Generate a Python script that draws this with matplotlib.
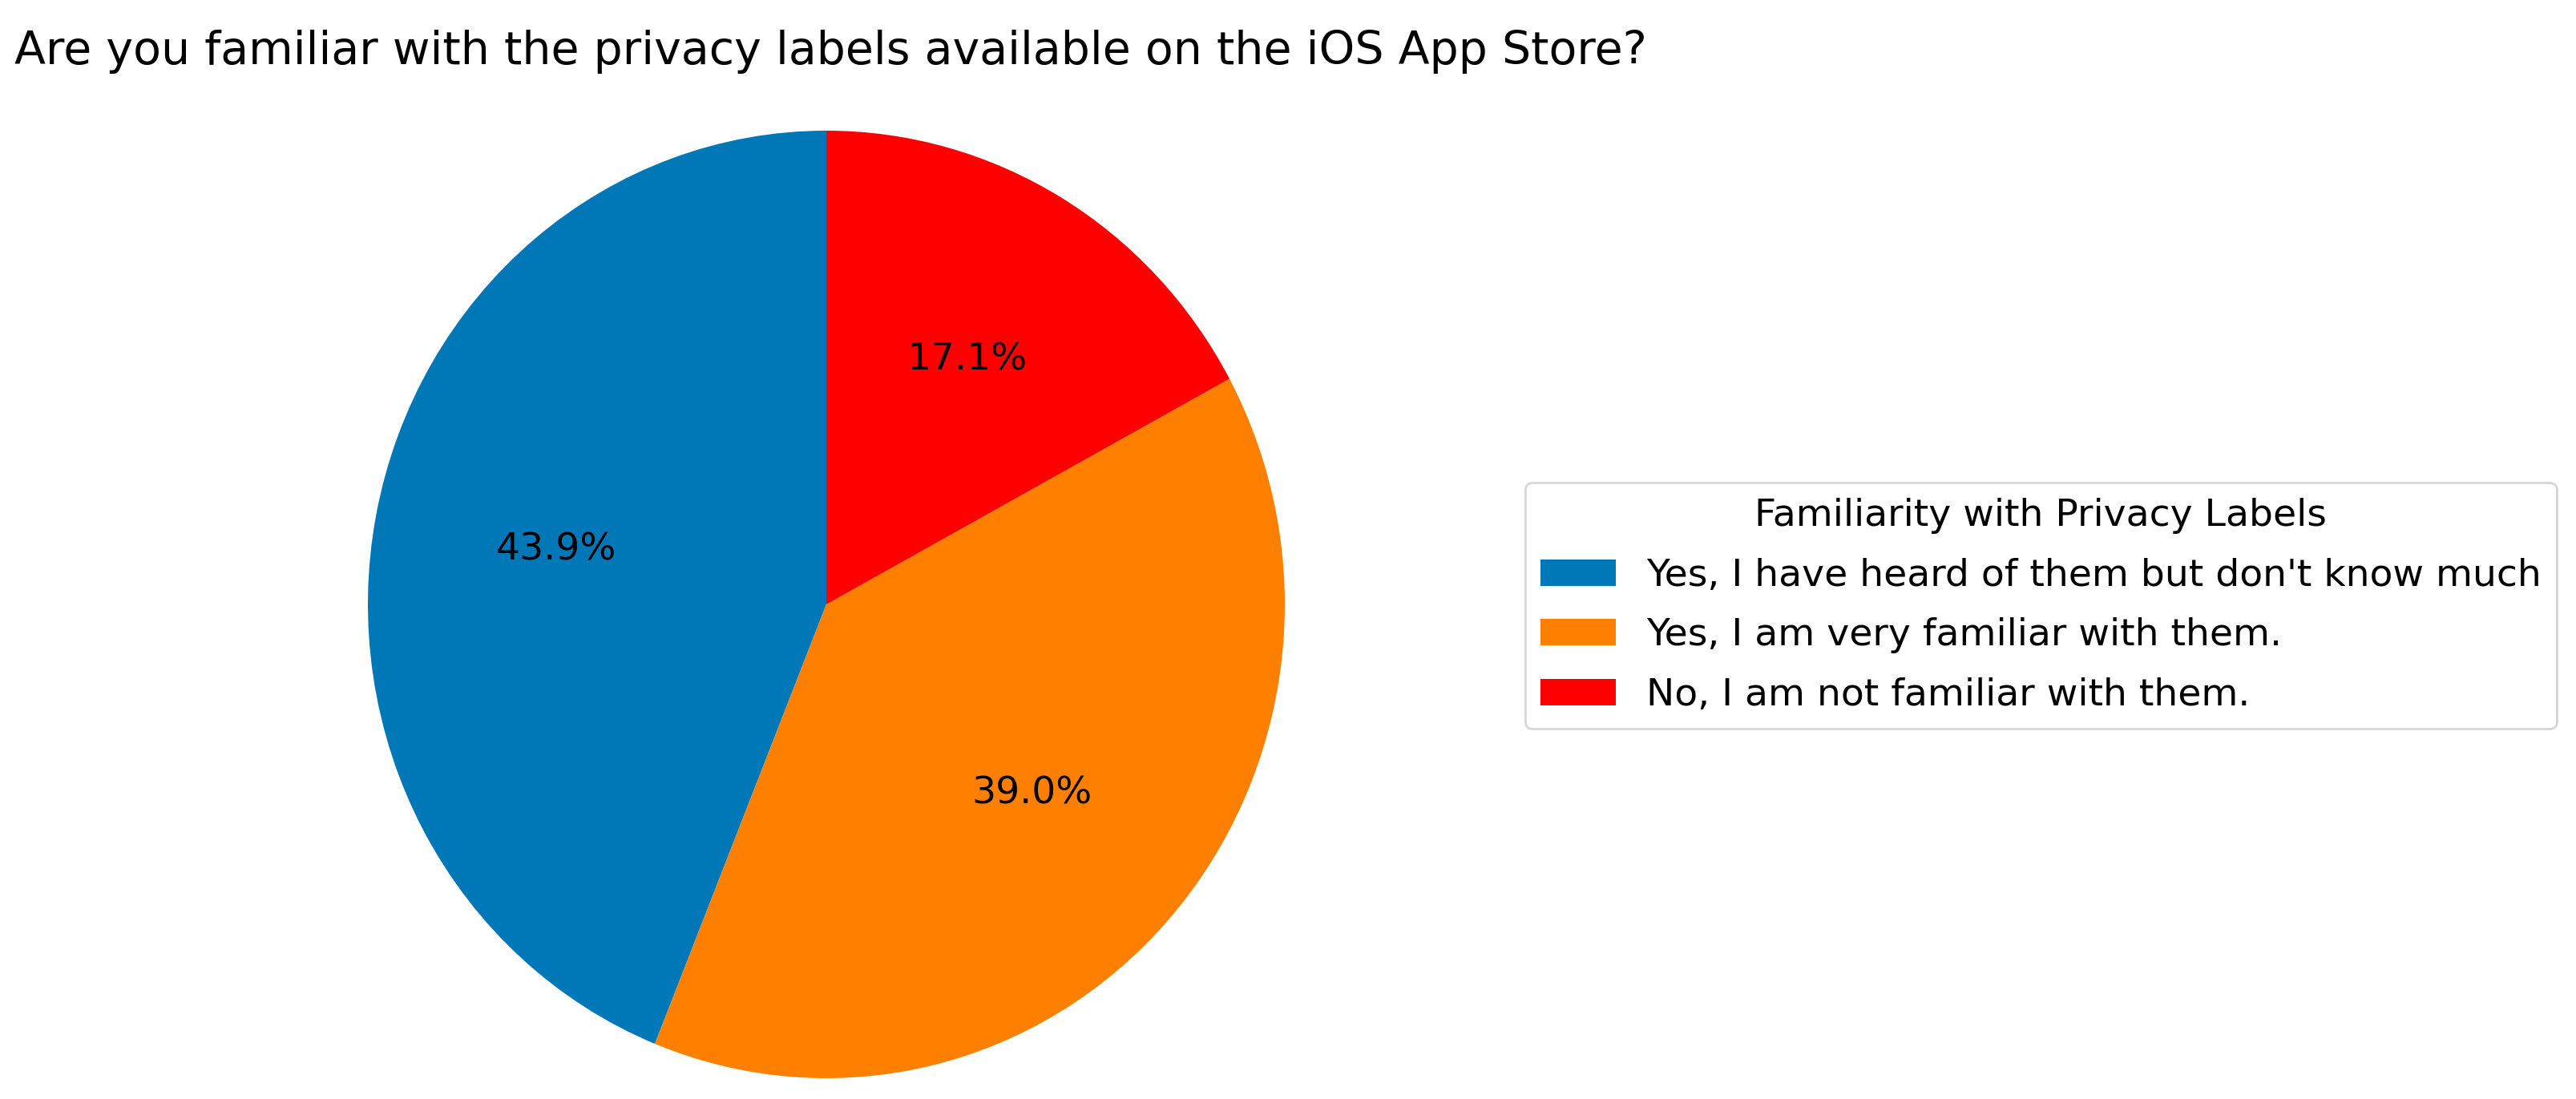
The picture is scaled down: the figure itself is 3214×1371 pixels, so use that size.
import matplotlib
matplotlib.use('Agg')
import matplotlib.pyplot as plt

# survey answers, counterclockwise from 12 o'clock
answers = ["Yes, I have heard of them but don't know much",
           "Yes, I am very familiar with them.",
           "No, I am not familiar with them."]
shares = [43.9, 39.0, 17.1]
colours = ['#0077B6', '#FF8000', '#FF0000']

title = 'Are you familiar with the privacy labels available on the iOS App Store?'
legend_title = 'Familiarity with Privacy Labels'

W, H, dpi = 3214, 1371, 200
fig = plt.figure(figsize=(W / dpi, H / dpi), dpi=dpi)

# pie centre and radii in pixels (the reference is a bit stretched vertically)
cx, cy, rx, ry = 1031, 754, 572, 591
ax = fig.add_axes([(cx - rx) / W, (H - cy - ry) / H, 2 * rx / W, 2 * ry / H])
wedges, texts, autotexts = ax.pie(shares, colors=colours, startangle=90,
                                  autopct='%1.1f%%', pctdistance=0.6,
                                  textprops={'fontsize': 17})
ax.set_xlim(-1, 1)
ax.set_ylim(-1, 1)
ax.set_aspect('auto')

fig.text(18 / W, 1 - 65 / H, title, fontsize=20.5, ha='left', va='center')

fig.legend(wedges, answers, title=legend_title, loc='upper left',
           bbox_to_anchor=(1903 / W, 1 - 602 / H), borderaxespad=0,
           fontsize=17, title_fontsize=17, labelspacing=0.63)

fig.savefig('out.png', dpi=dpi)
